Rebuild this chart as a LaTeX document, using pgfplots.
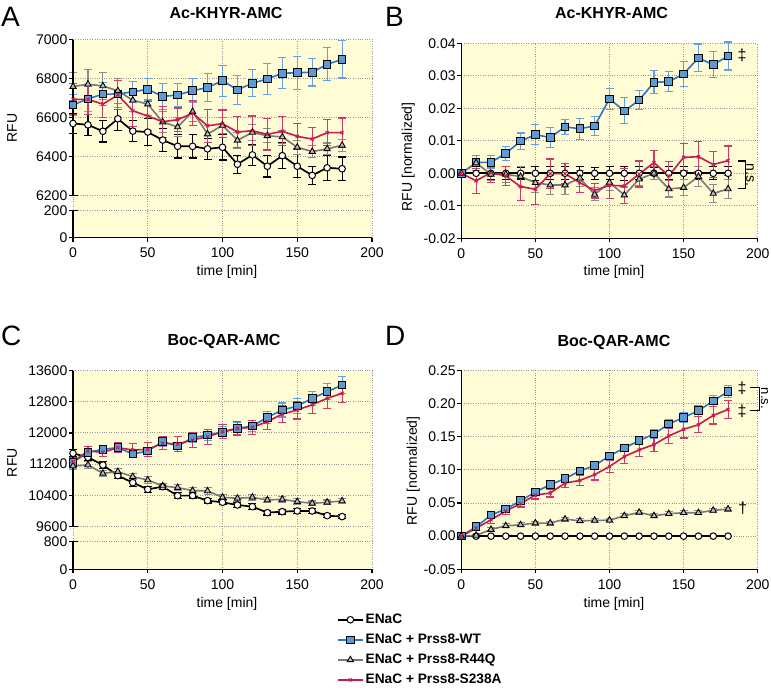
\documentclass[border=0pt]{standalone}
\usepackage{fontspec}
\setmainfont{Liberation Sans}
\usepackage{pgfplots}
\usepackage{pgfplotstable}
\pgfplotsset{compat=1.18}

\definecolor{bgy}{RGB}{255,252,214}
\definecolor{wtline}{RGB}{46,117,200}
\definecolor{wtfill}{RGB}{91,155,213}
\definecolor{wterr}{RGB}{100,160,225}
\definecolor{rdline}{RGB}{200,25,80}
\definecolor{rderr}{RGB}{205,60,105}
\definecolor{gyline}{RGB}{120,120,120}
\definecolor{gyfill}{RGB}{190,190,190}
\definecolor{gyerr}{RGB}{140,140,140}

\pgfplotstableread{
t e ee w we g ge r re
0 6570 50 6665 55 6759 70 6694 80
10 6563 55 6696 65 6771 75 6693 75
20 6530 55 6720 60 6762 70 6669 70
30 6594 60 6721 70 6737 65 6716 75
40 6531 55 6732 55 6689 60 6635 80
50 6526 70 6745 55 6669 60 6608 75
60 6485 60 6708 65 6577 55 6579 80
70 6453 60 6716 60 6552 50 6589 60
80 6453 60 6738 60 6631 50 6623 65
90 6440 55 6754 70 6516 45 6558 85
100 6448 65 6789 80 6560 40 6569 70
110 6361 45 6742 75 6484 40 6526 80
120 6409 55 6776 70 6524 40 6533 75
130 6351 55 6798 80 6507 35 6514 80
140 6405 65 6827 80 6501 35 6530 75
150 6351 60 6830 85 6448 35 6504 65
160 6304 45 6832 70 6426 30 6490 60
170 6343 65 6873 85 6440 30 6523 65
180 6338 60 6898 95 6458 30 6523 75
}\dataA

\pgfplotstableread{
t e ee w we g ge r re
0 0 0 0 0 0 0 0 0
10 0 0.002 0.0033 0.0023 0.0032 0.0023 -0.0023 0.0038
20 0 0.002 0.0034 0.002 -0.0003 0.002 0.0002 0.003
30 0 0.002 0.0061 0.0022 -0.0003 0.0025 -0.0008 0.003
40 0 0.0018 0.0099 0.0025 -0.0010 0.003 -0.0041 0.0042
50 0 0.0022 0.0119 0.003 -0.0029 0.003 -0.0049 0.0048
60 0 0.002 0.0110 0.003 -0.0036 0.003 -0.0001 0.0045
70 0 0.002 0.0143 0.0023 -0.0036 0.003 -0.0001 0.0032
80 0 0.002 0.0137 0.0032 -0.0015 0.0025 -0.0029 0.003
90 0 0.0018 0.0146 0.003 -0.0065 0.002 -0.0053 0.0023
100 0 0.002 0.0229 0.0033 -0.0028 0.0025 -0.0037 0.004
110 0 0.0022 0.0192 0.004 -0.0067 0.0025 -0.0039 0.0053
120 0 0.002 0.0225 0.003 -0.0018 0.002 -0.0002 0.004
130 0 0.0018 0.0280 0.0035 0.0000 0.002 0.0033 0.0037
140 0 0.002 0.0282 0.003 -0.0048 0.0025 -0.0008 0.0045
150 0 0.002 0.0306 0.0038 -0.0044 0.0025 0.0049 0.0042
160 0 0.002 0.0355 0.0043 -0.0010 0.003 0.0051 0.0047
170 0 0.002 0.0334 0.004 -0.0062 0.0028 0.0027 0.004
180 0 0.002 0.0361 0.0043 -0.0048 0.003 0.0039 0.0045
}\dataB

\pgfplotstableread{
t e ee w we g ge r re
0 11476 90 11245 120 11150 80 11262 100
10 11373 80 11502 80 11176 90 11536 120
20 11176 80 11579 80 10962 80 11502 110
30 10902 80 11621 90 11005 80 11621 120
40 10722 90 11459 100 10876 80 11562 160
50 10551 80 11536 100 10791 90 11579 180
60 10619 70 11776 120 10637 70 11733 170
70 10388 70 11664 100 10594 80 11716 200
80 10388 60 11878 120 10517 80 11819 190
90 10260 60 11947 130 10508 80 11904 190
100 10217 60 12016 150 10345 80 12033 180
110 10148 60 12118 150 10320 80 12118 170
120 10105 70 12178 150 10345 80 12144 180
130 9951 60 12401 160 10277 70 12290 210
140 9977 60 12589 180 10294 70 12487 230
150 9994 60 12692 200 10234 70 12589 230
160 9994 60 12889 180 10191 60 12726 230
170 9874 50 13060 200 10217 60 12889 250
180 9849 50 13232 220 10251 60 13018 230
}\dataC

\pgfplotstableread{
t e ee w we g ge r re
0 0 0 0 0 0 0 0 0
10 0 0 0.0141 0.002 0.001 0.002 0.012 0.004
20 0 0 0.0318 0.004 0.010 0.003 0.0247 0.005
30 0 0 0.0408 0.004 0.0156 0.003 0.0378 0.005
40 0 0 0.0534 0.004 0.017 0.003 0.0489 0.005
50 0 0 0.0665 0.004 0.0197 0.003 0.062 0.006
60 0 0 0.0776 0.004 0.0197 0.003 0.065 0.006
70 0 0 0.0867 0.004 0.0257 0.003 0.080 0.007
80 0 0 0.0983 0.004 0.023 0.003 0.084 0.007
90 0 0 0.1064 0.005 0.0237 0.003 0.0927 0.008
100 0 0 0.121 0.005 0.024 0.003 0.105 0.009
110 0 0 0.133 0.005 0.0307 0.003 0.120 0.010
120 0 0 0.144 0.006 0.0358 0.003 0.130 0.010
130 0 0 0.154 0.006 0.0307 0.003 0.138 0.011
140 0 0 0.169 0.007 0.0338 0.003 0.151 0.012
150 0 0 0.179 0.007 0.0353 0.003 0.161 0.013
160 0 0 0.189 0.008 0.0353 0.003 0.168 0.012
170 0 0 0.204 0.008 0.0388 0.003 0.182 0.013
180 0 0 0.218 0.009 0.0408 0.003 0.191 0.014
}\dataD

\pgfplotsset{
 panel/.style={
  scale only axis, clip=false, scaled ticks=false,
  xmin=0, xmax=200, xtick={0,50,100,150,200},
  axis x line*=bottom, axis y line*=left,
  axis line style={line width=1.4bp, black},
  every tick/.style={black, line width=1.2bp},
  tick align=outside, major tick length=4bp,
  grid=major, grid style={dotted, black!40, line width=0.9bp},
  axis background/.style={fill=bgy},
  tick label style={font=\fontsize{14bp}{16bp}\selectfont},
  yticklabel style={inner sep=1.5bp},
  xticklabel style={yshift=-3bp},
  label style={font=\fontsize{14bp}{16bp}\selectfont},
  title style={font=\bfseries\fontsize{16bp}{18bp}\selectfont, anchor=center},
  /pgf/number format/assume math mode=true,
  xlabel={time [min]},
  xlabel style={at={(axis description cs:0.515,-0.173)}, anchor=center},
 },
 sE/.style={black, line width=1.7bp, mark=*, mark size=3.3bp,
  mark options={fill=white, draw=black, line width=1bp, solid},
  error bars/.cd, y dir=both, y explicit,
  error bar style={black, line width=1.1bp},
  error mark options={rotate=90, black, mark size=4bp, line width=1.1bp}},
 sW/.style={wtline, line width=1.6bp, mark=square*, mark size=3.8bp,
  mark options={fill=wtfill, draw=black, line width=1bp, solid},
  error bars/.cd, y dir=both, y explicit,
  error bar style={wterr, line width=1.1bp},
  error mark options={rotate=90, wterr, mark size=4bp, line width=1.1bp}},
 sG/.style={gyline, line width=1.6bp, mark=triangle*, mark size=3.6bp,
  mark options={fill=gyfill, draw=black, line width=0.9bp, solid},
  error bars/.cd, y dir=both, y explicit,
  error bar style={gyerr, line width=1.1bp},
  error mark options={rotate=90, gyerr, mark size=4bp, line width=1.1bp}},
 sR/.style={rdline, line width=1.6bp, mark=x, mark size=2.2bp,
  mark options={rdline, line width=1bp, solid},
  error bars/.cd, y dir=both, y explicit,
  error bar style={rderr, line width=1.1bp},
  error mark options={rotate=90, rderr, mark size=4bp, line width=1.1bp}},
}

\begin{document}
\begin{tikzpicture}
\useasboundingbox (0,0) rectangle (771bp,-698bp);

\node[anchor=base west, font=\fontsize{28bp}{30bp}\selectfont, inner sep=0pt] at (1bp,-26.7bp) {A};
\node[anchor=base west, font=\fontsize{28bp}{30bp}\selectfont, inner sep=0pt] at (385bp,-26.7bp) {B};
\node[anchor=base west, font=\fontsize{28bp}{30bp}\selectfont, inner sep=0pt] at (1bp,-345bp) {C};
\node[anchor=base west, font=\fontsize{28bp}{30bp}\selectfont, inner sep=0pt] at (385bp,-345bp) {D};

% ---------------- A
\begin{axis}[panel, at={(73bp,-237.7bp)}, anchor=south west, width=299bp, height=198.2bp,
  ymin=5984.9, ymax=7000,
  ytick={5984.9,6123.2,6200,6400,6600,6800,7000},
  yticklabels={0,200,6200,6400,6600,6800,7000},
  y axis line style={draw=none},
  title={Ac-KHYR-AMC}, title style={at={(axis description cs:0.512,1.103)}},
  ylabel={RFU}, ylabel style={at={(axis description cs:-0.204,0.553)}, anchor=center}]
\addplot[sE] table[x=t,y=e,y error=ee]{\dataA};
\addplot[sW] table[x=t,y=w,y error=we]{\dataA};
\addplot[sG] table[x=t,y=g,y error=ge]{\dataA};
\addplot[sR] table[x=t,y=r,y error=re]{\dataA};
\draw[line width=1.4bp] (rel axis cs:0,0) -- (rel axis cs:0,0.13624);
\draw[line width=1.4bp] (rel axis cs:0,0.2119) -- (rel axis cs:0,1);
\draw[line width=1.4bp] (rel axis cs:0,0.2119) -- ++(4.5bp,0bp);
\draw[line width=1.4bp] (rel axis cs:0,0.13624) -- ++(4.5bp,0bp);
\end{axis}

% ---------------- B
\begin{axis}[panel, at={(461.3bp,-238.3bp)}, anchor=south west, width=296.4bp, height=195bp,
  ymin=-0.02, ymax=0.04,
  ytick={-0.02,-0.01,0,0.01,0.02,0.03,0.04},
  yticklabels={-0.02,-0.01,0.00,0.01,0.02,0.03,0.04},
  title={Ac-KHYR-AMC}, title style={at={(axis description cs:0.507,1.125)}},
  ylabel={RFU [normalized]}, ylabel style={at={(axis description cs:-0.179,0.418)}, anchor=center}]
\addplot[sE] table[x=t,y=e,y error=ee]{\dataB};
\addplot[sW] table[x=t,y=w,y error=we]{\dataB};
\addplot[sG] table[x=t,y=g,y error=ge]{\dataB};
\addplot[sR] table[x=t,y=r,y error=re]{\dataB};
\node[font=\fontsize{16bp}{16bp}\selectfont, inner sep=0pt] at (axis cs:189.4,0.0362) {‡};
\draw[line width=1.2bp] (axis cs:186.9,0.0038) -- (axis cs:191.9,0.0038) -- (axis cs:191.9,-0.0046) -- (axis cs:186.9,-0.0046);
\node[rotate=-90, font=\fontsize{14bp}{16bp}\selectfont, inner sep=0pt] at (axis cs:194.8,-0.0005) {n.s.};
\end{axis}

% ---------------- C
\begin{axis}[panel, at={(73bp,-569.3bp)}, anchor=south west, width=299bp, height=198.6bp,
  ymin=8494.5, ymax=13600,
  ytick={8494.5,9204,9600,10400,11200,12000,12800,13600},
  yticklabels={0,800,9600,10400,11200,12000,12800,13600},
  y axis line style={draw=none},
  title={Boc-QAR-AMC}, title style={at={(axis description cs:0.505,1.118)}},
  ylabel={RFU}, ylabel style={at={(axis description cs:-0.204,0.537)}, anchor=center}]
\addplot[sE] table[x=t,y=e,y error=ee]{\dataC};
\addplot[sW] table[x=t,y=w,y error=we]{\dataC};
\addplot[sG] table[x=t,y=g,y error=ge]{\dataC};
\addplot[sR] table[x=t,y=r,y error=re]{\dataC};
\draw[line width=1.4bp] (rel axis cs:0,0) -- (rel axis cs:0,0.13897);
\draw[line width=1.4bp] (rel axis cs:0,0.21653) -- (rel axis cs:0,1);
\draw[line width=1.4bp] (rel axis cs:0,0.21653) -- ++(4.5bp,0bp);
\draw[line width=1.4bp] (rel axis cs:0,0.13897) -- ++(4.5bp,0bp);
\end{axis}

% ---------------- D
\begin{axis}[panel, at={(461.3bp,-569.3bp)}, anchor=south west, width=296.4bp, height=199bp,
  ymin=-0.05, ymax=0.25,
  ytick={-0.05,0,0.05,0.10,0.15,0.20,0.25},
  yticklabels={-0.05,0.00,0.05,0.10,0.15,0.20,0.25},
  title={Boc-QAR-AMC}, title style={at={(axis description cs:0.515,1.11)}},
  ylabel={RFU [normalized]}, ylabel style={at={(axis description cs:-0.162,0.495)}, anchor=center},
  legend style={draw=none, fill=none, at={(axis description cs:-0.42,-0.2146)}, anchor=north west,
    font=\bfseries\fontsize{13.7bp}{16bp}\selectfont, row sep=5bp, inner sep=0pt,
    nodes={inner sep=2bp}},
  legend cell align=left,
  legend image code/.code={\draw[mark repeat=2,mark phase=2] plot coordinates {(0bp,0bp)(12.5bp,0bp)(25bp,0bp)};},
  legend entries={ENaC, ENaC + Prss8-WT, ENaC + Prss8-R44Q, ENaC + Prss8-S238A}]
\addplot[sE] table[x=t,y=e,y error=ee]{\dataD};
\addplot[sW] table[x=t,y=w,y error=we]{\dataD};
\addplot[sG] table[x=t,y=g,y error=ge]{\dataD};
\addplot[sR] table[x=t,y=r,y error=re]{\dataD};
\node[font=\fontsize{16bp}{16bp}\selectfont, inner sep=0pt] at (axis cs:189.4,0.2233) {‡};
\node[font=\fontsize{16bp}{16bp}\selectfont, inner sep=0pt] at (axis cs:189.4,0.1886) {‡};
\node[font=\fontsize{16bp}{16bp}\selectfont, inner sep=0pt] at (axis cs:190,0.0424) {†};
\draw[line width=1.2bp] (axis cs:194.7,0.2244) -- (axis cs:201.4,0.2244) -- (axis cs:201.4,0.1891) -- (axis cs:194.7,0.1891);
\node[rotate=-90, font=\fontsize{13bp}{15bp}\selectfont, inner sep=0pt] at (axis cs:204.6,0.2077) {n.s.};
\end{axis}
\end{tikzpicture}
\end{document}
